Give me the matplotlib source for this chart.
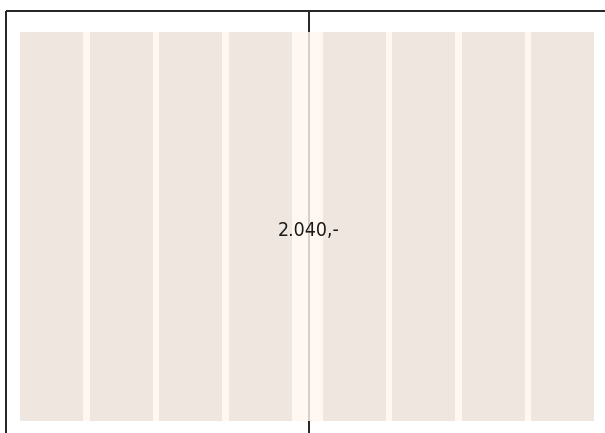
import matplotlib.pyplot as plt
from matplotlib.patches import Rectangle

# grid layout: 8 columns split in two halves by a wider middle gutter
n_cols = 8
label = '2.040,-'

col_w = 63
gutter = 6.5
mid_gutter = 31
left, top, bottom = 20, 32, 421

fig = plt.figure(figsize=(6.05, 4.33), dpi=100)
ax = fig.add_axes([0, 0, 1, 1])
ax.set_xlim(0, 605)
ax.set_ylim(433, 0)
ax.axis('off')

# frame lines
ax.plot([6, 605], [11, 11], color='#222222', lw=1.4, solid_capstyle='butt', zorder=1)
ax.plot([6, 6], [11, 433], color='#222222', lw=1.4, solid_capstyle='butt', zorder=1)

# column positions
xs = []
x = left
for i in range(n_cols):
    xs.append(x)
    x += col_w + (mid_gutter if i == n_cols // 2 - 1 else gutter)
right = xs[-1] + col_w
mid = (xs[n_cols // 2 - 1] + col_w + xs[n_cols // 2]) / 2 + 2

ax.plot([mid, mid], [11, 433], color='#222222', lw=1.4, solid_capstyle='butt', zorder=1)

# background of grid area (semi transparent over the centre line)
ax.add_patch(Rectangle((left, top), right - left, bottom - top,
                       facecolor='#fff6ef', alpha=0.82, lw=0, zorder=2))
for x in xs:
    ax.add_patch(Rectangle((x, top), col_w, bottom - top,
                           facecolor='#efe6e0', lw=0, zorder=3))

ax.text(mid, 230, label, ha='center', va='center', fontsize=14,
        fontstretch='condensed', color='#1a1a1a',
        family=['DejaVu Sans'], zorder=4)

fig.savefig('out.png', dpi=100)
